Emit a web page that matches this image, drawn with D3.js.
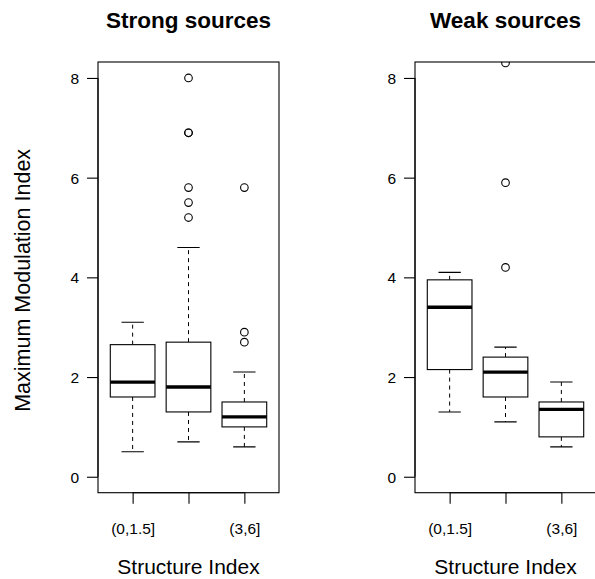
<!DOCTYPE html>
<html>
<head>
<meta charset="utf-8">
<script src="https://cdn.jsdelivr.net/npm/d3@7"></script>
<style>
  html, body { margin: 0; padding: 0; background: #fff; }
  svg { display: block; }
  text { font-family: "Liberation Sans", Arial, Helvetica, sans-serif; fill: #000; }
</style>
</head>
<body>
<script>
// ---- data ----
const categories = ["(0,1.5]", "(1.5,3]", "(3,6]"];
const panelTitles = ["Strong sources", "Weak sources"];
const yTicks = [0, 2, 4, 6, 8];
const xLabel = "Structure Index";
const yLabel = "Maximum Modulation Index";

// Strong sources
const strongWhiskerLow  = [0.5, 0.7, 0.6];
const strongQ1          = [1.6, 1.3, 1.0];
const strongMedian      = [1.9, 1.8, 1.2];
const strongQ3          = [2.65, 2.7, 1.5];
const strongWhiskerHigh = [3.1, 4.6, 2.1];
const strongOutliers    = [[], [8.0, 6.9, 6.9, 5.8, 5.5, 5.2], [5.8, 2.9, 2.7]];

// Weak sources
const weakWhiskerLow  = [1.3, 1.1, 0.6];
const weakQ1          = [2.15, 1.6, 0.8];
const weakMedian      = [3.4, 2.1, 1.35];
const weakQ3          = [3.95, 2.4, 1.5];
const weakWhiskerHigh = [4.1, 2.6, 1.9];
const weakOutliers    = [[], [8.3, 5.9, 4.2], []];

// ---- layout ----
const W = 595, H = 579;
const svg = d3.select("body").append("svg").attr("width", W).attr("height", H);

const plotTop = 62, plotBottom = 492.7;
const panels = [
  { left: 98, right: 279, title: panelTitles[0],
    lo: strongWhiskerLow, q1: strongQ1, med: strongMedian, q3: strongQ3, hi: strongWhiskerHigh, out: strongOutliers },
  { left: 415, right: 596, title: panelTitles[1],
    lo: weakWhiskerLow, q1: weakQ1, med: weakMedian, q3: weakQ3, hi: weakWhiskerHigh, out: weakOutliers }
];

const y = d3.scaleLinear().domain([-0.32, 8.32]).range([plotBottom, plotTop]);
const boxW = 0.8, capW = 0.4;

panels.forEach((p, pi) => {
  const x = d3.scaleLinear().domain([0.38, 3.62]).range([p.left, p.right]);
  const g = svg.append("g");

  const clipId = "clip" + pi;
  svg.append("clipPath").attr("id", clipId).append("rect")
    .attr("x", p.left).attr("y", plotTop).attr("width", p.right - p.left).attr("height", plotBottom - plotTop);

  const marks = g.append("g").attr("clip-path", `url(#${clipId})`);

  categories.forEach((c, i) => {
    const cx = x(i + 1);
    const bl = x(i + 1 - boxW / 2), br = x(i + 1 + boxW / 2);
    const cl = x(i + 1 - capW / 2), cr = x(i + 1 + capW / 2);
    // whiskers (dashed)
    marks.append("line").attr("x1", cx).attr("x2", cx).attr("y1", y(p.q3[i])).attr("y2", y(p.hi[i]))
      .attr("stroke", "#000").attr("stroke-width", 1).attr("stroke-dasharray", "4,4");
    marks.append("line").attr("x1", cx).attr("x2", cx).attr("y1", y(p.q1[i])).attr("y2", y(p.lo[i]))
      .attr("stroke", "#000").attr("stroke-width", 1).attr("stroke-dasharray", "4,4");
    // staples
    [p.hi[i], p.lo[i]].forEach(v => {
      marks.append("line").attr("x1", cl).attr("x2", cr).attr("y1", y(v)).attr("y2", y(v))
        .attr("stroke", "#000").attr("stroke-width", 1.1);
    });
    // box
    marks.append("rect").attr("x", bl).attr("width", br - bl)
      .attr("y", y(p.q3[i])).attr("height", y(p.q1[i]) - y(p.q3[i]))
      .attr("fill", "#fff").attr("stroke", "#000").attr("stroke-width", 1.1);
    // median
    marks.append("line").attr("x1", bl).attr("x2", br).attr("y1", y(p.med[i])).attr("y2", y(p.med[i]))
      .attr("stroke", "#000").attr("stroke-width", 3.3);
    // outliers
    p.out[i].forEach(v => {
      marks.append("circle").attr("cx", cx).attr("cy", y(v)).attr("r", 3.8)
        .attr("fill", "none").attr("stroke", "#000").attr("stroke-width", 1.1);
    });
  });

  // frame
  g.append("rect").attr("x", p.left).attr("y", plotTop).attr("width", p.right - p.left).attr("height", plotBottom - plotTop)
    .attr("fill", "none").attr("stroke", "#000").attr("stroke-width", 1.1);

  // y axis
  const yAxis = d3.axisLeft(y).tickValues(yTicks).tickSize(11).tickPadding(8).tickFormat(d3.format("d"));
  const ya = g.append("g").attr("transform", `translate(${p.left},0)`).call(yAxis);
  ya.select(".domain").attr("d", `M0,${y(0)}V${y(8)}`).attr("stroke-width", 1.1);
  ya.selectAll(".tick line").attr("stroke-width", 1.1);
  ya.selectAll(".tick text").style("font-size", "15.5px").attr("font-family", null).attr("dy", "0.35em");

  // x axis
  const xAxis = d3.axisBottom(x).tickValues([1, 2, 3]).tickSize(11).tickPadding(0).tickFormat(d => categories[d - 1]);
  const xa = g.append("g").attr("transform", `translate(0,${plotBottom})`).call(xAxis);
  xa.select(".domain").attr("d", `M${x(1)},0H${x(3)}`).attr("stroke-width", 1.1);
  xa.selectAll(".tick line").attr("stroke-width", 1.1);
  xa.selectAll(".tick text").style("font-size", "15.5px").attr("font-family", null)
    .attr("y", 41).attr("dy", null);
  // drop overlapping labels like R does (gap of about one 'm' width)
  const texts = xa.selectAll(".tick text").nodes();
  let lastRight = -Infinity;
  texts.forEach((t, i) => {
    const w = t.getComputedTextLength();
    const cx = x(i + 1);
    const l = cx - w / 2, r = cx + w / 2;
    if (l < lastRight + 15) { d3.select(t).attr("display", "none"); }
    else { lastRight = r; }
  });

  // title
  g.append("text").attr("x", (p.left + p.right) / 2).attr("y", 28).attr("text-anchor", "middle")
    .style("font-size", "22.5px").style("font-weight", "bold").text(p.title);

  // x label
  g.append("text").attr("x", (p.left + p.right) / 2).attr("y", 573.5).attr("text-anchor", "middle")
    .style("font-size", "21px").text(xLabel);
});

// y label
svg.append("text").attr("transform", `translate(30,${(plotTop + plotBottom) / 2 + 3}) rotate(-90)`)
  .attr("text-anchor", "middle").style("font-size", "21.5px").text(yLabel);
</script>
</body>
</html>
